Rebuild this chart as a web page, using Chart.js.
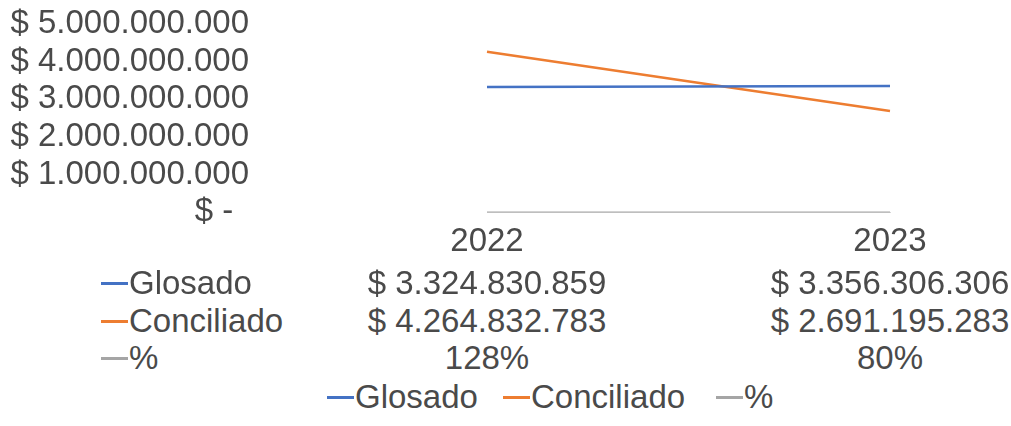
<!DOCTYPE html>
<html>
<head>
<meta charset="utf-8">
<title>Glosado vs Conciliado</title>
<script src="https://cdn.jsdelivr.net/npm/chart.js@4"></script>
<style>
  html, body { margin: 0; padding: 0; background: #fff; }
  body { width: 1011px; height: 426px; position: relative; overflow: hidden;
         font-family: "Liberation Sans", Arial, sans-serif; color: #4a4a4a; }
  #wrap { position: absolute; left: 0; top: 0; width: 1011px; height: 272px; }
  .cell { position: absolute; font-size: 33px; line-height: 38px; white-space: nowrap; }
  .key { display: inline-block; width: 27px; height: 3px; vertical-align: middle; margin-right: 1px; position: relative; top: -2px; }
</style>
</head>
<body>
<div id="wrap"><canvas id="chart"></canvas></div>
<div id="table"></div>
<div id="legend"></div>
<script>
// --- data ---
const years = ['2022', '2023'];
const seriesNames = ['Glosado', 'Conciliado', '%'];
const glosado = [3324830859, 3356306306];
const conciliado = [4264832783, 2691195283];
const porcentaje = [1.28, 0.80];
const seriesColors = ['#4472C4', '#ED7D31', '#A5A5A5'];
const yMax = 5000000000;
const yStep = 1000000000;

// Excel style "$ 1.000.000.000" / "$ -"
function money(v) {
    if (v === 0) return '$ - \u2009';
    return '$ ' + Math.round(v).toString().replace(/\B(?=(\d{3})+(?!\d))/g, '.');
}
function percent(v) { return Math.round(v * 100) + '%'; }

const textColor = '#4a4a4a';
const fontFamily = '"Liberation Sans", Arial, sans-serif';

const chart = new Chart(document.getElementById('chart').getContext('2d'), {
    type: 'line',
    data: {
        labels: years,
        datasets: [
            { label: seriesNames[0], data: glosado, borderColor: seriesColors[0], borderWidth: 2.5, pointRadius: 0 },
            { label: seriesNames[1], data: conciliado, borderColor: seriesColors[1], borderWidth: 2.5, pointRadius: 0 },
            { label: seriesNames[2], data: porcentaje, borderColor: seriesColors[2], borderWidth: 2, pointRadius: 0 }
        ]
    },
    options: {
        responsive: true,
        maintainAspectRatio: false,
        animation: false,
        layout: { padding: { top: 24, right: 121, left: 0, bottom: 0 } },
        plugins: { legend: { display: false }, tooltip: { enabled: false } },
        scales: {
            x: {
                offset: false,
                grid: { display: false, drawTicks: false },
                border: { display: true, color: '#d6d6d6' },
                ticks: { color: textColor, font: { family: fontFamily, size: 33 }, padding: 10,
                         maxRotation: 0, minRotation: 0, autoSkip: false }
            },
            y: {
                min: 0,
                max: yMax,
                grid: { display: false, drawTicks: false },
                border: { display: false },
                ticks: {
                    stepSize: yStep,
                    autoSkip: false,
                    color: textColor,
                    font: { family: fontFamily, size: 33 },
                    padding: 238,
                    callback: v => money(v)
                },
                // wide gap between labels and plot, without the tick padding
                // leaking into the top/bottom padding
                afterFit: s => { s.width = 487; s.paddingTop = 0; s.paddingBottom = 0; }
            }
        }
    }
});

// --- data table below the axis, columns follow the category scale ---
const rows = [
    glosado.map(money),
    conciliado.map(money),
    porcentaje.map(percent)
];
const rowTops = [264, 302, 339];
const table = document.getElementById('table');
const xScale = chart.scales.x;
rows.forEach((vals, r) => {
    const head = document.createElement('div');
    head.className = 'cell';
    head.style.left = '101px';
    head.style.top = rowTops[r] + 'px';
    head.innerHTML = '<span class="key" style="background:' + seriesColors[r] + '"></span>' + seriesNames[r];
    table.appendChild(head);
    vals.forEach((txt, i) => {
        const c = document.createElement('div');
        c.className = 'cell';
        c.textContent = txt;
        c.style.top = rowTops[r] + 'px';
        c.style.left = xScale.getPixelForValue(i) + 'px';
        c.style.transform = 'translateX(-50%)';
        table.appendChild(c);
    });
});

// --- legend ---
const legend = document.getElementById('legend');
const legendLefts = [327, 503, 716];
seriesNames.forEach((name, i) => {
    const it = document.createElement('div');
    it.className = 'cell';
    it.style.left = legendLefts[i] + 'px';
    it.style.top = '378px';
    it.innerHTML = '<span class="key" style="background:' + seriesColors[i] + '"></span>' + name;
    legend.appendChild(it);
});
</script>
</body>
</html>
